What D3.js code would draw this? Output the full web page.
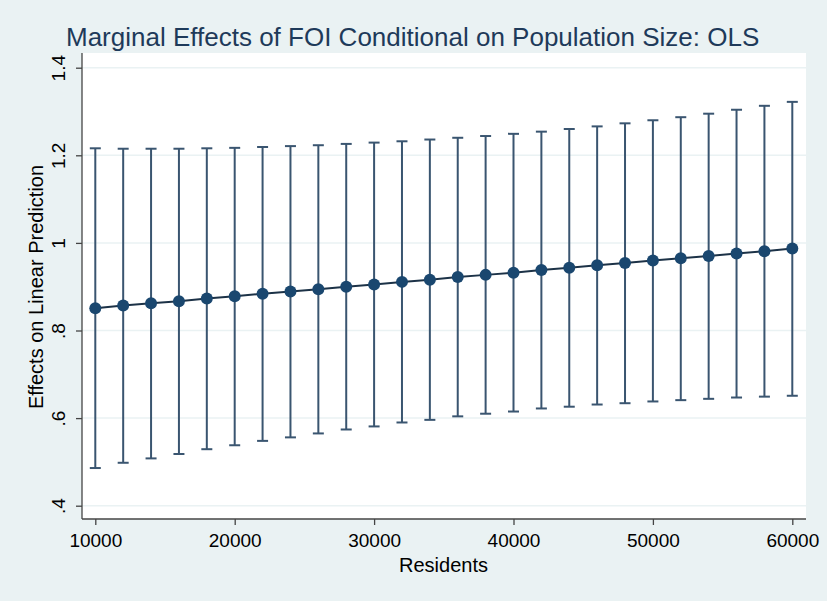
<!DOCTYPE html>
<html><head><meta charset="utf-8">
<script src="https://cdn.jsdelivr.net/npm/d3@7"></script>
<style>html,body{margin:0;padding:0;background:#eaf2f3;}svg{display:block;}</style>
</head><body>
<script>
const residents = [10000,12000,14000,16000,18000,20000,22000,24000,26000,28000,30000,32000,34000,36000,38000,40000,42000,44000,46000,48000,50000,52000,54000,56000,58000,60000];
const estimate = [0.851,0.857,0.862,0.867,0.873,0.878,0.884,0.889,0.894,0.900,0.905,0.911,0.916,0.922,0.927,0.932,0.938,0.943,0.949,0.954,0.960,0.965,0.970,0.976,0.981,0.987];
const upper = [1.216,1.215,1.215,1.215,1.216,1.217,1.219,1.221,1.223,1.226,1.229,1.232,1.236,1.240,1.244,1.249,1.254,1.260,1.266,1.273,1.280,1.287,1.295,1.304,1.313,1.322];
const lower = [0.486,0.498,0.508,0.518,0.529,0.538,0.548,0.556,0.565,0.574,0.581,0.590,0.596,0.604,0.610,0.615,0.622,0.626,0.631,0.634,0.638,0.641,0.644,0.647,0.649,0.651];
const xTicks = [10000,20000,30000,40000,50000,60000];
const yTicks = [0.4,0.6,0.8,1.0,1.2,1.4];
const yTickLabels = [".4",".6",".8","1","1.2","1.4"];

const W = 827, H = 601;
const plot = {left: 82, right: 806, top: 53, bottom: 519};
const navy = "#1a476f";
const font = "'Liberation Sans', Arial, Helvetica, sans-serif";

const svg = d3.select("body").append("svg").attr("width", W).attr("height", H);
svg.append("rect").attr("width", W).attr("height", H).attr("fill", "#eaf2f3");
svg.append("rect").attr("x", plot.left).attr("y", plot.top)
  .attr("width", plot.right - plot.left).attr("height", plot.bottom - plot.top).attr("fill", "#fff");

const x = d3.scaleLinear().domain([10000, 60000]).range([95.3, 792.3]);
const y = d3.scaleLinear().domain([0.4, 1.4]).range([505.7, 67.7]);

// gridlines
svg.append("g").selectAll("line").data(yTicks).join("line")
  .attr("x1", plot.left).attr("x2", plot.right)
  .attr("y1", d => y(d)).attr("y2", d => y(d))
  .attr("stroke", "#eaf2f3").attr("stroke-width", 1.5);

// y axis
const yAxis = d3.axisLeft(y).tickValues(yTicks).tickSize(6).tickPadding(6)
  .tickFormat((d, i) => yTickLabels[i]);
const gy = svg.append("g").attr("transform", `translate(${plot.left},0)`).call(yAxis);
gy.select(".domain").attr("d", `M0,${plot.top}V${plot.bottom}`).attr("stroke", "#444").attr("stroke-width", 1.3);
gy.selectAll(".tick line").attr("stroke", "#444").attr("stroke-width", 1.3);
gy.selectAll(".tick text")
  .attr("font-family", font).attr("font-size", 19).attr("fill", "#000")
  .attr("x", null).attr("dy", null)
  .attr("text-anchor", "middle")
  .attr("transform", "translate(-17,0) rotate(-90)");

// x axis
const xAxis = d3.axisBottom(x).tickValues(xTicks).tickSize(6).tickPadding(6).tickFormat(d3.format("d"));
const gx = svg.append("g").attr("transform", `translate(0,${plot.bottom})`).call(xAxis);
gx.select(".domain").attr("d", `M${plot.left},0H${plot.right}`).attr("stroke", "#444").attr("stroke-width", 1.3);
gx.selectAll(".tick line").attr("stroke", "#444").attr("stroke-width", 1.3);
gx.selectAll(".tick text")
  .attr("font-family", font).attr("font-size", 19).attr("fill", "#000")
  .attr("dy", null).attr("y", 28);

const data = residents.map((r, i) => ({r, e: estimate[i], u: upper[i], l: lower[i]}));

// error bars
const eb = svg.append("g").attr("stroke", "#3a5570").attr("stroke-width", 2).attr("fill", "none");
eb.selectAll("line.v").data(data).join("line").attr("class", "v")
  .attr("x1", d => x(d.r)).attr("x2", d => x(d.r))
  .attr("y1", d => y(d.u)).attr("y2", d => y(d.l));
eb.selectAll("line.cu").data(data).join("line").attr("class", "cu")
  .attr("x1", d => x(d.r) - 5.5).attr("x2", d => x(d.r) + 5.5)
  .attr("y1", d => y(d.u)).attr("y2", d => y(d.u));
eb.selectAll("line.cl").data(data).join("line").attr("class", "cl")
  .attr("x1", d => x(d.r) - 5.5).attr("x2", d => x(d.r) + 5.5)
  .attr("y1", d => y(d.l)).attr("y2", d => y(d.l));

// connecting line
svg.append("path").datum(data)
  .attr("d", d3.line().x(d => x(d.r)).y(d => y(d.e)))
  .attr("fill", "none").attr("stroke", "#1c3247").attr("stroke-width", 2);

// markers
svg.append("g").selectAll("circle").data(data).join("circle")
  .attr("cx", d => x(d.r)).attr("cy", d => y(d.e)).attr("r", 6)
  .attr("fill", navy);

// title
svg.append("text").attr("x", 66).attr("y", 46)
  .attr("font-family", font).attr("font-size", 26).attr("fill", "#1e3a5a")
  .text("Marginal Effects of FOI Conditional on Population Size: OLS");

// axis titles
svg.append("text").attr("x", 443.5).attr("y", 572)
  .attr("text-anchor", "middle")
  .attr("font-family", font).attr("font-size", 20).attr("fill", "#000")
  .text("Residents");
svg.append("text").attr("transform", `translate(43,${(plot.top + plot.bottom) / 2 + 1}) rotate(-90)`)
  .attr("text-anchor", "middle")
  .attr("font-family", font).attr("font-size", 20).attr("fill", "#000")
  .text("Effects on Linear Prediction");
</script>
</body></html>
